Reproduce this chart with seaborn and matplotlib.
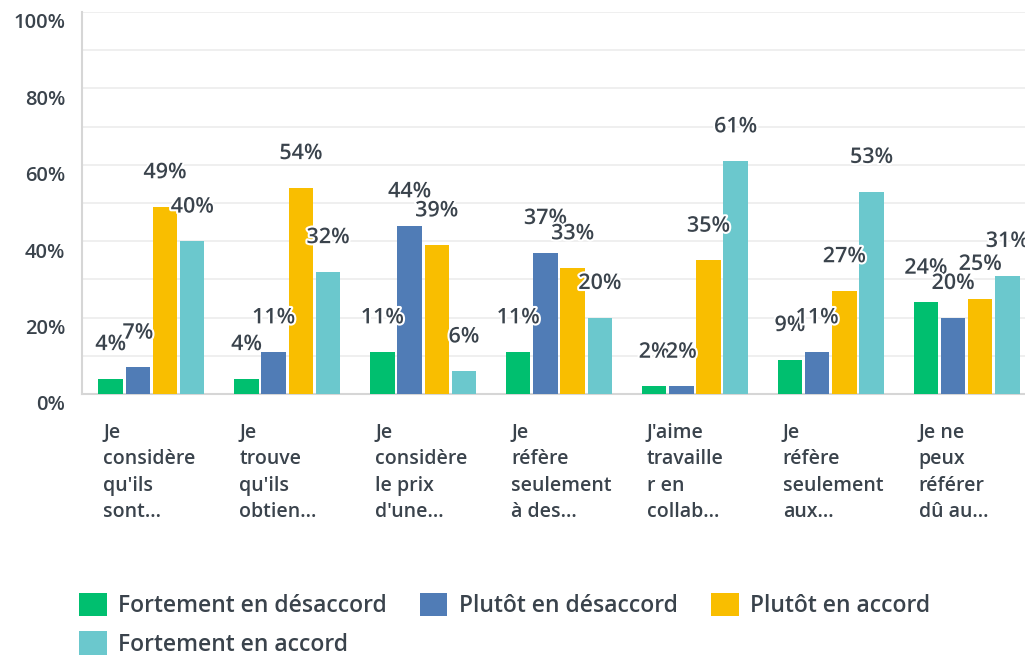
import matplotlib
matplotlib.use("Agg")
import matplotlib.pyplot as plt
import matplotlib.patheffects as pe
from matplotlib.patches import Patch
from matplotlib.transforms import ScaledTranslation
import seaborn as sns
import pandas as pd

categories = [
    "Je\nconsidère\nqu'ils\nsont...",
    "Je\ntrouve\nqu'ils\nobtien...",
    "Je\nconsidère\nle prix\nd'une...",
    "Je\nréfère\nseulement\nà des...",
    "J'aime\ntravaille\nr en\ncollab...",
    "Je\nréfère\nseulement\naux...",
    "Je ne\npeux\nréférer\ndû au...",
]
series = ["Fortement en désaccord", "Plutôt en désaccord",
          "Plutôt en accord", "Fortement en accord"]
fort_desaccord = [4, 4, 11, 11, 2, 9, 24]
plutot_desaccord = [7, 11, 44, 37, 2, 11, 20]
plutot_accord = [49, 54, 39, 33, 35, 27, 25]
fort_accord = [40, 32, 6, 20, 61, 53, 31]
colors = ["#00bf6f", "#507cb6", "#f9be00", "#6bc8cd"]
yticks = [0, 20, 40, 60, 80, 100]

values = [fort_desaccord, plutot_desaccord, plutot_accord, fort_accord]
rows = []
for s, vals in zip(series, values):
    for c, v in zip(categories, vals):
        rows.append({"categorie": c, "reponse": s, "pct": v})
df = pd.DataFrame(rows)

sns.set_style("white")
plt.rcParams["font.family"] = ["Open Sans", "DejaVu Sans"]
text_color = "#3a434c"

fig = plt.figure(figsize=(10.25, 6.56), dpi=100)
ax = fig.add_axes([82 / 1025, 1 - 394 / 656, 943 / 1025, 382 / 656])

sns.barplot(
    data=df, x="categorie", y="pct", hue="reponse",
    order=categories, hue_order=series, palette=colors,
    width=0.8, gap=0.1, saturation=1, linewidth=0,
    legend=False, ax=ax, zorder=3,
)

for cont in ax.containers:
    labels = ax.bar_label(cont, fmt="{:.0f}%", padding=17, fontsize=15.5,
                          fontweight="semibold", color=text_color, zorder=5)
    for t in labels:
        t.set_path_effects([pe.withStroke(linewidth=3, foreground="white")])

ax.set_xlim(-0.511, 6.43)
ax.set_ylim(0, 100)
ax.set_yticks(range(0, 101, 10), minor=False)
ax.set_yticklabels([f"{v}%" if v in yticks else "" for v in range(0, 101, 10)])
ax.grid(axis="y", color="#ececec", linewidth=1.2, zorder=0)
ax.set_axisbelow(True)
ax.set_xlabel("")
ax.set_ylabel("")

for side in ["top", "right"]:
    ax.spines[side].set_visible(False)
ax.spines["left"].set_color("#d6d6d6")
ax.spines["bottom"].set_color("#d6d6d6")
ax.spines["left"].set_linewidth(1.5)
ax.spines["bottom"].set_linewidth(1.5)

ax.tick_params(axis="y", length=0, pad=12, labelsize=14.5, labelcolor=text_color)
ax.tick_params(axis="x", length=0, pad=21, labelsize=14, labelcolor=text_color)
for lab in ax.get_yticklabels():
    lab.set_fontweight("semibold")
    lab.set_transform(lab.get_transform() + ScaledTranslation(0, -0.09, fig.dpi_scale_trans))
for lab in ax.get_xticklabels():
    lab.set_fontweight("semibold")
    lab.set_horizontalalignment("left")
    lab.set_verticalalignment("top")
    lab.set_linespacing(1.42)
    lab.set_transform(lab.get_transform() + ScaledTranslation(-0.48, 0, fig.dpi_scale_trans))

handles = [Patch(facecolor=c, edgecolor="none", label=s) for c, s in zip(colors, series)]
order = [0, 3, 1, 2]
leg = fig.legend(
    [handles[i] for i in order], [series[i] for i in order],
    loc="upper left", bbox_to_anchor=(79 / 1025, 1 - 593 / 656),
    ncol=3, frameon=False, fontsize=16.5, borderpad=0, borderaxespad=0,
    handlelength=1.2, handleheight=1.2, handletextpad=0.5,
    columnspacing=1.45, labelspacing=0.55,
)
for t in leg.get_texts():
    t.set_color(text_color)
    t.set_fontweight("semibold")

fig.savefig("out.png", dpi=100)
